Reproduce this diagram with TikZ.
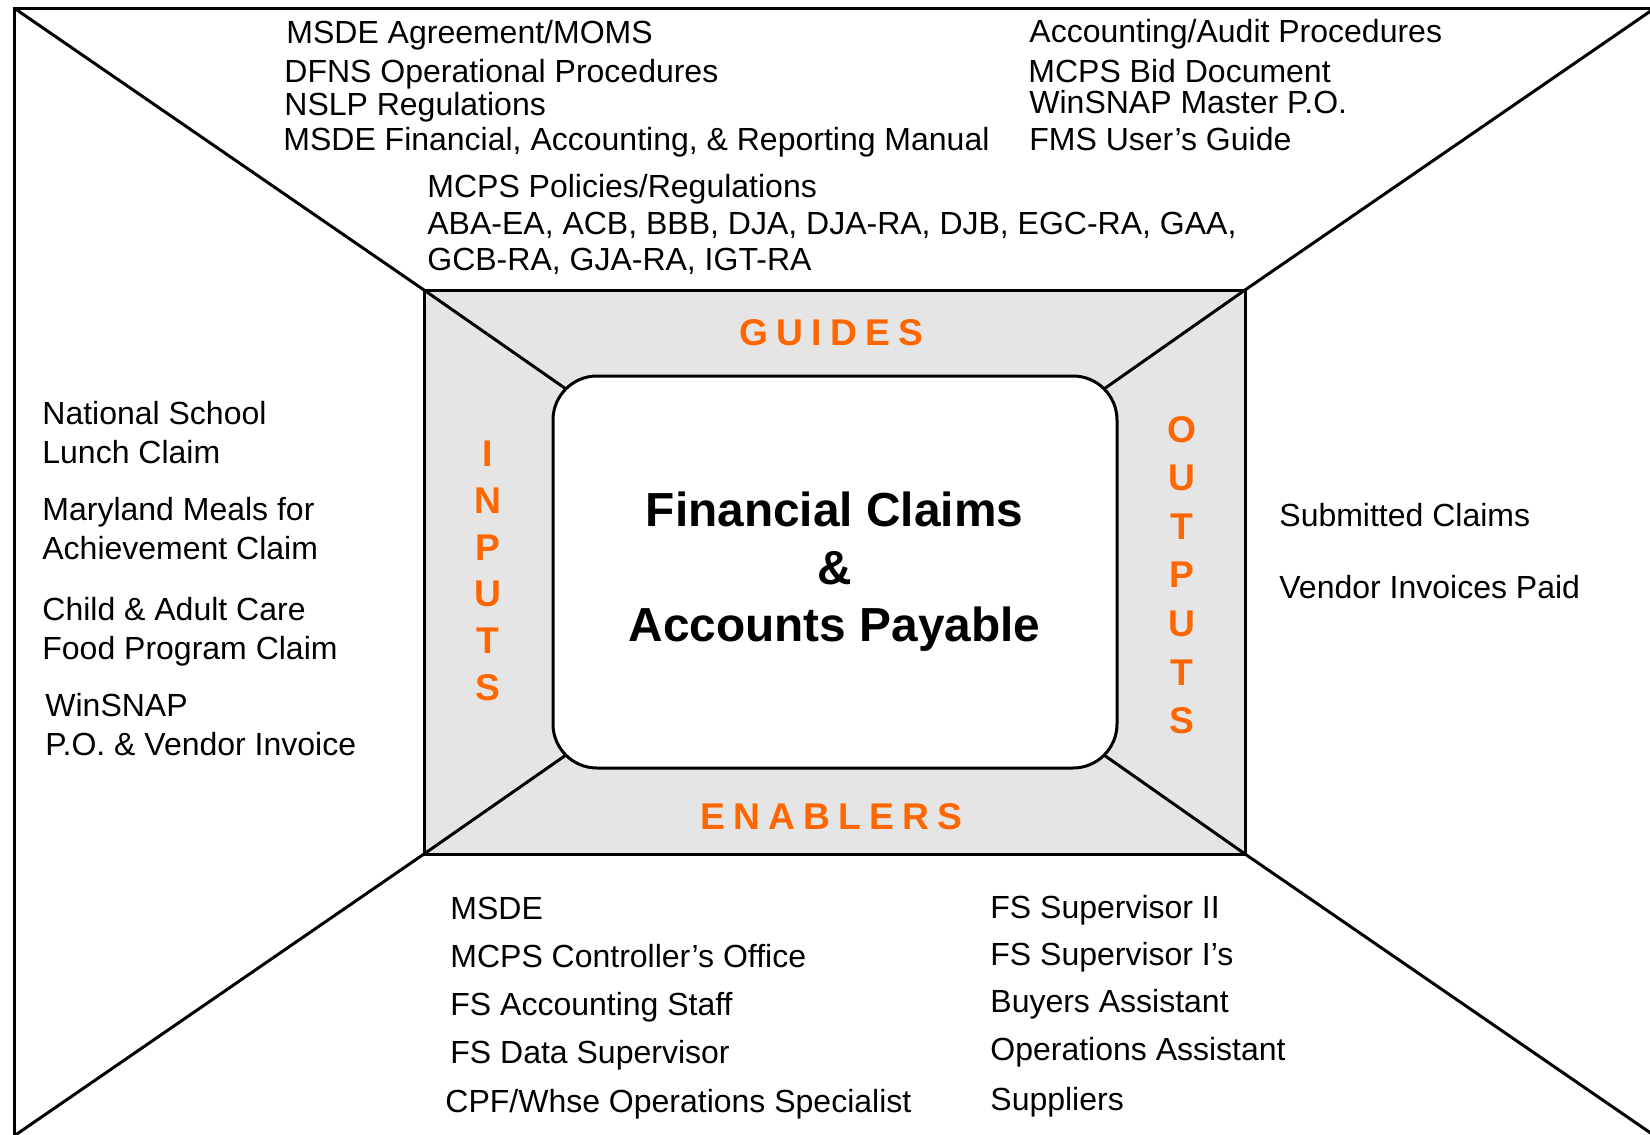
\documentclass[tikz,border=0pt]{standalone}
\usepackage{fontspec}
\setmainfont{Liberation Sans}
\usetikzlibrary{calc}
\definecolor{lbl}{HTML}{FF6600}
\definecolor{panel}{HTML}{E5E5E5}
\tikzset{
  body/.style={anchor=base west, inner sep=0pt, font=\fontsize{16}{19}\selectfont},
  ttl/.style={anchor=base, inner sep=0pt, font=\fontsize{23.9}{28}\selectfont\bfseries},
  vlet/.style={anchor=base, inner sep=0pt, text=lbl, font=\fontsize{18.6}{22}\selectfont\bfseries},
  hlbl/.style={anchor=base, inner sep=0pt, xshift=-1.5pt, text=lbl, font=\fontsize{18.6}{22}\selectfont\bfseries\addfontfeature{LetterSpace=22}},
  edge/.style={line width=1.5pt},
}
\begin{document}
\begin{tikzpicture}[x=0.5pt,y=-0.5pt]
\useasboundingbox (0,0) rectangle (1650,1135);
\coordinate (otl) at (14,8);
\coordinate (otr) at (1655,8);
\coordinate (obl) at (14,1136);
\coordinate (obr) at (1655,1136);
% frame (gray band)
\node[draw, line width=1.5pt, fill=panel, minimum width=410.5pt, minimum height=282pt, inner sep=0pt, outer sep=0pt] (frame) at (834.5,572) {};
\begin{scope}
  \clip (0,0) rectangle (1650,1135);
  \draw[edge] (otl) rectangle (obr);
  \draw[edge] (otl) -- (frame.north west);
  \draw[edge] (otr) -- (frame.north east);
  \draw[edge] (obl) -- (frame.south west);
  \draw[edge] (obr) -- (frame.south east);
\end{scope}
% core
\node[draw, line width=1.5pt, fill=white, rounded corners=22pt, minimum width=282pt, minimum height=196pt, inner sep=0pt, outer sep=0pt] (core) at (835,572) {};
\coordinate (cnw) at ($(core.north west)+(6.44pt,-6.44pt)$);
\coordinate (cne) at ($(core.north east)+(-6.44pt,-6.44pt)$);
\coordinate (csw) at ($(core.south west)+(6.44pt,6.44pt)$);
\coordinate (cse) at ($(core.south east)+(-6.44pt,6.44pt)$);
\draw[edge] (frame.north west) -- (cnw);
\draw[edge] (frame.north east) -- (cne);
\draw[edge] (frame.south west) -- (csw);
\draw[edge] (frame.south east) -- (cse);
% title
\node[ttl] (t1) at (834.5,526) {Financial Claims};
\node[ttl] (t2) at (834.5,584) {\&};
\node[ttl] (t3) at (834.5,641) {Accounts Payable};
% band labels
\node[hlbl] (guides) at (834.5,345) {GUIDES};
\node[hlbl] (enablers) at (834.5,829) {ENABLERS};
\foreach \l [count=\i] in {I,N,P,U,T,S}
  \node[vlet] (in\i) at (488,{466.5+46.8*(\i-1)}) {\l};
\foreach \l [count=\i] in {O,U,T,P,U,T,S}
  \node[vlet] (out\i) at (1182,{442+48.6*(\i-1)}) {\l};
% guides text
\node[body] (g1) at (286,43) {MSDE Agreement/MOMS};
\node[body] (g2) at (284,82) {DFNS Operational Procedures};
\node[body] (g3) at (284,115) {NSLP Regulations};
\node[body] (g4) at (283,150) {MSDE Financial, Accounting, \& Reporting Manual};
\node[body] (g5) at (1029,42) {Accounting/Audit Procedures};
\node[body] (g6) at (1028,82) {MCPS Bid Document};
\node[body] (g7) at (1029,113) {WinSNAP Master P.O.};
\node[body] (g8) at (1029,150) {FMS User’s Guide};
\node[body] (g9) at (427,197) {MCPS Policies/Regulations};
\node[body] (g10) at (427,234) {ABA-EA, ACB, BBB, DJA, DJA-RA, DJB, EGC-RA, GAA,};
\node[body] (g11) at (427,270) {GCB-RA, GJA-RA, IGT-RA};
% inputs text
\node[body] (i1) at (42,424) {National School};
\node[body] (i2) at (42,463) {Lunch Claim};
\node[body] (i3) at (42,520) {Maryland Meals for};
\node[body] (i4) at (42,559) {Achievement Claim};
\node[body] (i5) at (42,620) {Child \& Adult Care};
\node[body] (i6) at (42,659) {Food Program Claim};
\node[body] (i7) at (45,716) {WinSNAP};
\node[body] (i8) at (45,755) {P.O. \& Vendor Invoice};
% outputs text
\node[body] (o1) at (1279,526) {Submitted Claims};
\node[body] (o2) at (1279,598) {Vendor Invoices Paid};
% enablers text
\node[body] (e1) at (450,919) {MSDE};
\node[body] (e2) at (450,967) {MCPS Controller’s Office};
\node[body] (e3) at (450,1015) {FS Accounting Staff};
\node[body] (e4) at (450,1063) {FS Data Supervisor};
\node[body] (e5) at (445,1112) {CPF/Whse Operations Specialist};
\node[body] (e6) at (990,918) {FS Supervisor II};
\node[body] (e7) at (990,965) {FS Supervisor I’s};
\node[body] (e8) at (990,1012) {Buyers Assistant};
\node[body] (e9) at (990,1060) {Operations Assistant};
\node[body] (e10) at (990,1110) {Suppliers};
\end{tikzpicture}
\end{document}
